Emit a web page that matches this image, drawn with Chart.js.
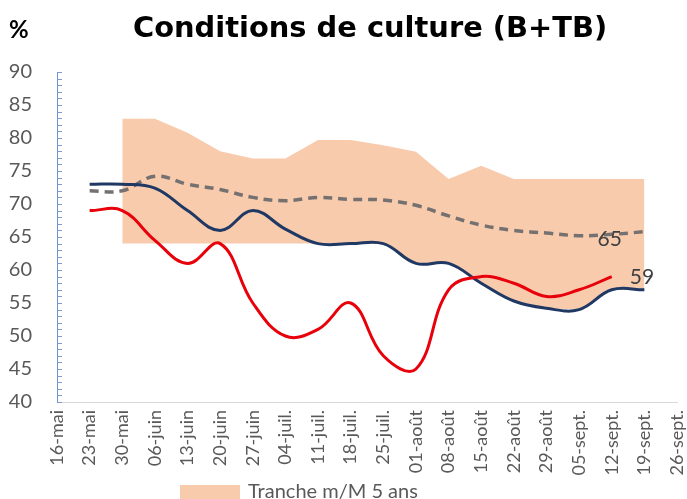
<!DOCTYPE html>
<html><head><meta charset="utf-8">
<script src="https://cdn.jsdelivr.net/npm/chart.js@4/dist/chart.umd.min.js"></script>
<style>html,body{margin:0;padding:0;background:#fff;}#wrap{position:relative;width:687px;height:499px;}</style>
</head><body><div id="wrap"><canvas id="c" width="687" height="499"></canvas></div>
<script>
// ---- data ----
const categories = ['16-mai','23-mai','30-mai','06-juin','13-juin','20-juin','27-juin','04-juil.','11-juil.','18-juil.','25-juil.','01-août','08-août','15-août','22-août','29-août','05-sept.','12-sept.','19-sept.','26-sept.'];
const currentYear = [null,69,69,64.5,61,64,55,50,51,55,47,45,57,59,58,56,57,59,null,null];
const previousYear = [null,73,73,72.4,69,66,69,66.2,64,64,64,61,61,58,55.3,54.2,54,57,57,null];
const average5y = [null,72,72,74.2,73,72.2,71,70.5,71,70.7,70.6,69.8,68.2,66.8,66,65.6,65.2,65.4,65.8,null];
const bandMin = [null,null,64,64,64,64,64,64,64,64,64,61,61,58,55.3,54.2,54,57,57,null];
const bandMax = [null,null,82.9,82.9,80.8,78,76.9,76.9,79.7,79.7,78.9,77.9,73.8,75.8,73.8,73.8,73.8,73.8,73.8,null];
const yMin = 40, yMax = 90, yStep = 5;
const labelledPoints = [{series:'average', index:17}, {series:'current', index:17}];
const legendLabel = 'Tranche m/M 5 ans';
const titleText = 'Conditions de culture (B+TB)';
const unitText = '%';

const GRAY_TXT = '#595959';
const BAND = '#f8cbad';

const decor = {
  id:'decor',
  afterDraw(chart){
    const ctx = chart.ctx, xs = chart.scales.x, ys = chart.scales.y;
    ctx.save();
    // minor ticks on y axis (inside)
    ctx.strokeStyle = '#7f9bd3'; ctx.lineWidth = 1;
    for(let v=yMin; v<=yMax; v++){
      const py = Math.round(ys.getPixelForValue(v))+0.5;
      ctx.beginPath(); ctx.moveTo(xs.left, py); ctx.lineTo(xs.left+5, py); ctx.stroke();
    }
    // title & unit
    ctx.fillStyle = '#000'; ctx.textAlign='left'; ctx.textBaseline='alphabetic';
    let fs = 30;
    ctx.font = 'bold '+fs+'px "DejaVu Sans"';
    const w = ctx.measureText(titleText).width;
    fs = Math.round(fs*474/w*10)/10;
    ctx.font = 'bold '+fs+'px "DejaVu Sans"';
    ctx.fillText(titleText, 133, 37);
    ctx.font = 'bold 24px Lato';
    ctx.fillText(unitText, 9, 38);
    // data labels
    ctx.font = '21px Lato'; ctx.fillStyle = '#404040';
    for(const lp of labelledPoints){
      const arr = lp.series==='average' ? average5y : currentYear;
      const v = arr[lp.index];
      const px = xs.getPixelForValue(lp.index), py = ys.getPixelForValue(v);
      ctx.textBaseline='middle';
      if(lp.series==='average'){ ctx.textAlign='center'; ctx.fillText(String(Math.round(v)), px-2, py+5); }
      else { ctx.textAlign='left'; ctx.fillText(String(Math.round(v)), px+18, py+1); }
    }
    // legend
    const ds = chart.data.datasets.find(d=>d.label===legendLabel);
    ctx.fillStyle = ds.backgroundColor;
    ctx.fillRect(180, 485, 60, 14);
    ctx.fillStyle = GRAY_TXT; ctx.font = '20px Lato'; ctx.textAlign='left'; ctx.textBaseline='alphabetic';
    ctx.fillText(ds.label, 248, 498);
    ctx.restore();
  }
};

function build(){
  new Chart(document.getElementById('c'), {
    type:'line',
    data:{
      labels: categories,
      datasets:[
        {label:'Année en cours', data: currentYear, borderColor:'#e8000b', borderWidth:3, tension:0.4, pointRadius:0, fill:false},
        {label:'Année précédente', data: previousYear, borderColor:'#203864', borderWidth:3, tension:0.4, pointRadius:0, fill:false},
        {label:'Moyenne 5 ans', data: average5y, borderColor:'#767171', borderWidth:3.5, borderDash:[9,6], tension:0.4, pointRadius:0, fill:false},
        {label:'min', data: bandMin, borderWidth:0, borderColor:'rgba(0,0,0,0)', pointRadius:0, tension:0, fill:false},
        {label: legendLabel, data: bandMax, borderWidth:0, borderColor:'rgba(0,0,0,0)', backgroundColor: BAND, pointRadius:0, tension:0, fill:'-1'}
      ]
    },
    options:{
      responsive:false, animation:false, devicePixelRatio:1,
      layout:{padding:{left:0,right:10,top:72,bottom:0}},
      plugins:{legend:{display:false}, tooltip:{enabled:false}, title:{display:false}},
      scales:{
        x:{
          offset:false,
          grid:{display:true, drawOnChartArea:false, drawTicks:false},
          border:{display:true, color:'#d9d9d9', width:1},
          ticks:{autoSkip:false, maxRotation:90, minRotation:90, padding:8, color:GRAY_TXT, font:{family:'Lato', size:18}},
          afterFit(s){ s.height = 97; s.paddingLeft = 0; s.paddingRight = 0; }
        },
        y:{
          min:yMin, max:yMax,
          grid:{display:true, drawOnChartArea:false, drawTicks:false},
          border:{display:true, color:'#6f8fcf', width:1},
          ticks:{stepSize:yStep, padding:25, color:GRAY_TXT, font:{family:'Lato', size:20}},
          afterFit(s){ s.width = 57; s.paddingTop = 0; s.paddingBottom = 0; }
        }
      }
    },
    plugins:[decor]
  });
}
const fl = ['bold 30px "DejaVu Sans"','bold 24px Lato','21px Lato','18px Lato','20px Lato'].map(f=>document.fonts.load(f).catch(()=>{}));
Promise.race([Promise.all(fl), new Promise(r=>setTimeout(r,1500))]).then(build);
</script></body></html>
